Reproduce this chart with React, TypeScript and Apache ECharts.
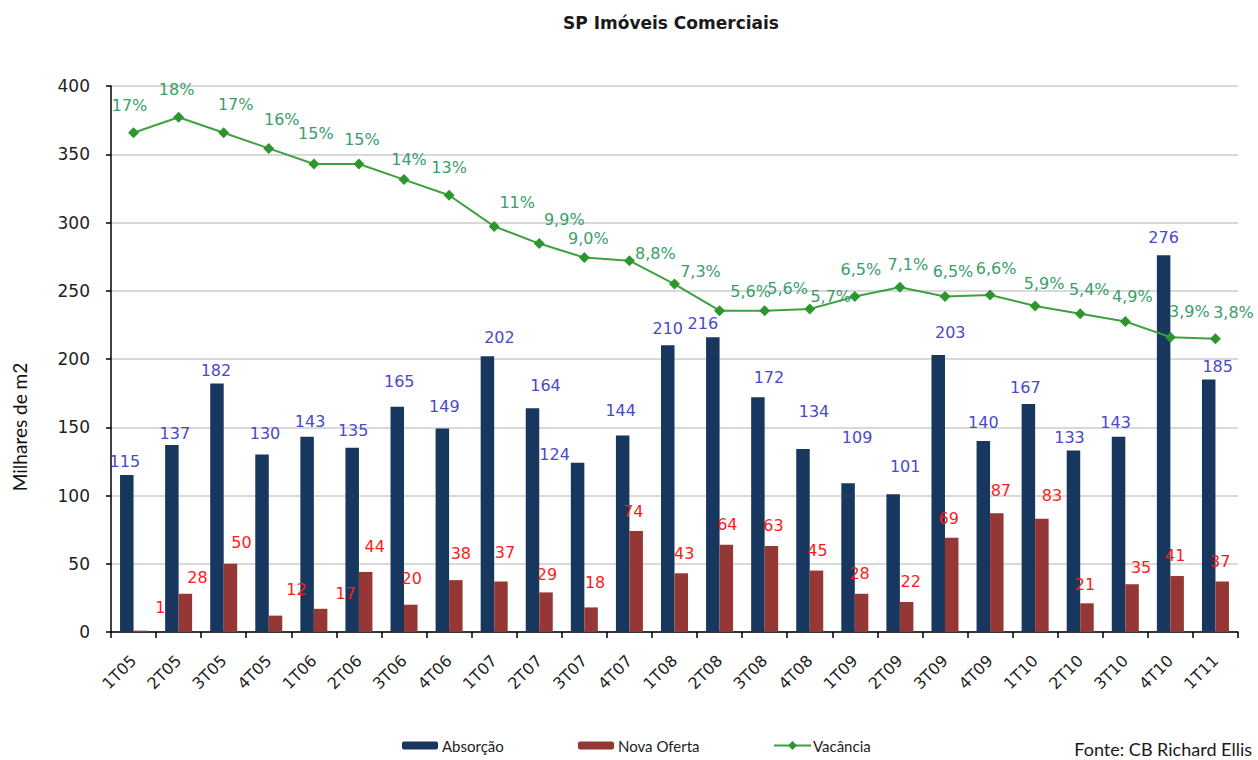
import React, { useEffect, useRef } from "react";
import * as echarts from "echarts";

const categories = ["1T05","2T05","3T05","4T05","1T06","2T06","3T06","4T06","1T07","2T07","3T07","4T07","1T08","2T08","3T08","4T08","1T09","2T09","3T09","4T09","1T10","2T10","3T10","4T10","1T11"];
const absorcao = [115,137,182,130,143,135,165,149,202,164,124,144,210,216,172,134,109,101,203,140,167,133,143,276,185];
const novaOferta = [1,28,50,12,17,44,20,38,37,29,18,74,43,64,63,45,28,22,69,87,83,21,35,41,37];
const vacancia = [17,18,17,16,15,15,14,13,11,9.9,9.0,8.8,7.3,5.6,5.6,5.7,6.5,7.1,6.5,6.6,5.9,5.4,4.9,3.9,3.8];
const yTicks = { min: 0, max: 400, interval: 50 };

// label nudges (as placed in the original chart)
const absLabelNudge = [[-2,-1],[3,2],[-1,0],[3,-8],[3,-2],[1,-4],[2,-12],[2,-9],[12,-6],[13,-10],[-23,5],[-2,-12],[0,-4],[-10,-1],[11,-7],[11,-25],[9,-33],[12,-15],[12,-9],[0,-5],[-3,-4],[-4,0],[-3,-1],[0,-5],[9,0]];
const ofertaLabelNudge = [[20,-10],[12,-3],[11,-8],[21,-13],[25,-2],[9,-12],[1,-13],[5,-14],[4,-16],[1,-5],[4,-12],[-3,-6],[3,-7],[1,-7],[2,-8],[1,-7],[-2,-7],[4,-7],[-3,-6],[4,-10],[10,-10],[-2,-6],[9,-4],[-2,-8],[-2,-7]];
const vacLabelNudge = [[-4,-14],[-2,-14],[12,-15],[13,-15],[2,-17],[3,-11],[5,-7],[0,-14],[23,-10],[25,-11],[4,-6],[26,6],[26,1],[31,-6],[23,-9],[21,1],[6,-14],[8,-9],[8,-12],[6,-13],[9,-9],[9,-11],[7,-12],[19,-12],[18,-13]];

const fmtPct = (v: number) => (v >= 10 ? `${Math.round(v)}%` : `${v.toFixed(1).replace(".", ",")}%`);

export default function App() {
  const ref = useRef<HTMLDivElement>(null);
  useEffect(() => {
    document.body.style.margin = "0";
    const chart = echarts.init(ref.current!, undefined, { renderer: "svg" });
    const numFont = "DejaVu Sans";
    chart.setOption({
      animation: false,
      backgroundColor: "#ffffff",
      grid: { left: 111, right: 20, top: 86, bottom: 128, containLabel: false },
      graphic: [
        {
          type: "text", x: 671, y: 23,
          style: { text: "SP Imóveis Comerciais", textAlign: "center", textVerticalAlign: "middle", font: "bold 17px 'DejaVu Sans'", fill: "#1a1a1a" },
        },
        {
          type: "text", x: 19, y: 427, rotation: Math.PI / 2,
          style: { text: "Milhares de m2", textAlign: "center", textVerticalAlign: "middle", font: "19px Lato", fill: "#111" },
        },
        {
          type: "text", x: 1252, y: 749,
          style: { text: "Fonte: CB Richard Ellis", textAlign: "right", textVerticalAlign: "middle", font: "18px Lato", fill: "#1a1a1a" },
        },
      ],
      legend: [
        { data: ["Absorção"], left: 397, top: 733, itemWidth: 36, itemHeight: 8, textStyle: { fontFamily: "Lato", fontSize: 15, color: "#222", padding: [0, 0, 0, -1] } },
        { data: ["Nova Oferta"], left: 573, top: 733, itemWidth: 36, itemHeight: 8, textStyle: { fontFamily: "Lato", fontSize: 15, color: "#222", padding: [0, 0, 0, -1] } },
        { data: ["Vacância"], left: 768, top: 733, itemWidth: 37, itemHeight: 11, textStyle: { fontFamily: "Lato", fontSize: 15, color: "#222", padding: [0, 0, 0, -3] } },
      ],
      xAxis: {
        type: "category",
        data: categories,
        boundaryGap: true,
        axisLine: { lineStyle: { color: "#000", width: 1.5 } },
        axisTick: { show: true, alignWithLabel: false, length: 6, lineStyle: { color: "#000", width: 1.5 } },
        axisLabel: { interval: 0, rotate: 45, margin: 26, fontFamily: numFont, fontSize: 16, color: "#222" },
      },
      yAxis: [
        {
          type: "value",
          min: yTicks.min, max: yTicks.max, interval: yTicks.interval,
          axisLine: { show: true, lineStyle: { color: "#000", width: 1.5 } },
          axisTick: { show: true, length: 5, lineStyle: { color: "#000", width: 1.5 } },
          axisLabel: { margin: 21, fontFamily: numFont, fontSize: 17, color: "#222" },
          splitLine: { lineStyle: { color: "#d9d9d9", width: 2 } },
        },
        { type: "value", min: -15, max: 20, show: false, splitLine: { show: false } },
      ],
      series: [
        {
          name: "Absorção",
          type: "bar",
          barWidth: 13.5,
          barGap: "0%",
          itemStyle: { color: "#17375e" },
          data: absorcao.map((v, i) => ({
            value: v,
            label: { offset: absLabelNudge[i] },
          })),
          label: { show: true, position: "top", distance: 5, fontFamily: numFont, fontSize: 16, color: "#4a4ac8" },
        },
        {
          name: "Nova Oferta",
          type: "bar",
          barWidth: 13.5,
          barGap: "0%",
          itemStyle: { color: "#953735" },
          data: novaOferta.map((v, i) => ({
            value: v,
            label: { offset: ofertaLabelNudge[i] },
          })),
          label: { show: true, position: "top", distance: 5, fontFamily: numFont, fontSize: 16, color: "#ff1a1a" },
        },
        {
          name: "Vacância",
          type: "line",
          yAxisIndex: 1,
          symbol: "diamond",
          symbolSize: 11,
          itemStyle: { color: "#2e962e" },
          lineStyle: { color: "#3fa03f", width: 2 },
          data: vacancia.map((v, i) => ({
            value: v,
            label: { offset: vacLabelNudge[i] },
          })),
          label: { show: true, position: "top", distance: 0, fontFamily: numFont, fontSize: 16, color: "#3a9e6a", formatter: (p: any) => fmtPct(p.value) },
        },
      ],
    });
    return () => chart.dispose();
  }, []);
  return <div ref={ref} style={{ width: 1258, height: 760 }} />;
}
